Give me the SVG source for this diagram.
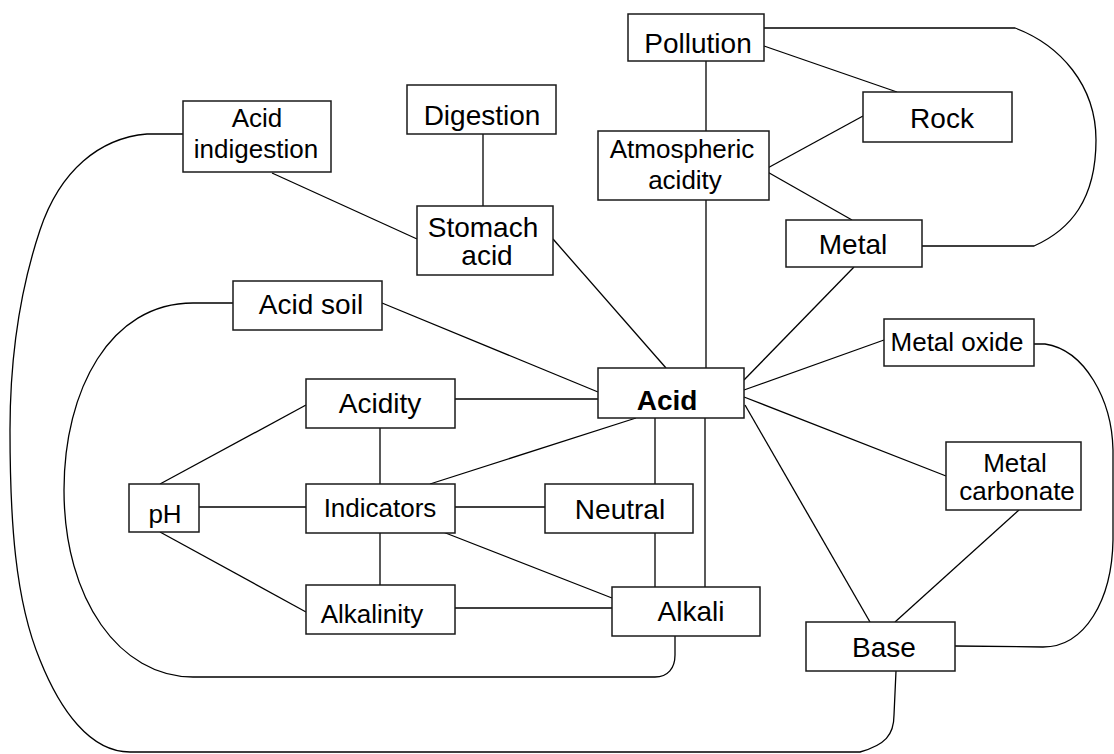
<svg xmlns="http://www.w3.org/2000/svg" width="1114" height="754" viewBox="0 0 1114 754">
<style>
.box{fill:#fff;stroke:#1a1a1a;stroke-width:1.5}
.ln{fill:none;stroke:#000;stroke-width:1.3}
text{font-family:"Liberation Sans",Arial,sans-serif;fill:#000;text-anchor:middle}
.big{font-size:28px}
.sm{font-size:26px}
.bold{font-size:28px;font-weight:bold}
</style>
<rect width="1114" height="754" fill="#fff"/>
<g id="connectors">
<path class="ln" d="M706,61 V131"/>
<path class="ln" d="M764,46 L897,92"/>
<path class="ln" d="M764,28 L1015,28 C1060,45 1096,85 1096,140 C1096,200 1070,230 1034,246 L922,246"/>
<path class="ln" d="M764,170 L863,116"/>
<path class="ln" d="M764,170 L852,220"/>
<path class="ln" d="M706,200 V368"/>
<path class="ln" d="M483,134 V206"/>
<path class="ln" d="M272,173 L417,239"/>
<path class="ln" d="M553,239 L666,368"/>
<path class="ln" d="M854,267 L744,380"/>
<path class="ln" d="M187,134 L147,134 C100,138 60,170 40,230 C20,290 10,360 10,430 C10,520 15,600 40,660 C60,710 90,752 130,752 L860,752 C885,745 894,735 894,715 L896,671"/>
<path class="ln" d="M382,303 L598,392"/>
<path class="ln" d="M233,303 L193,303 C110,303 64,390 64,490 C64,600 120,677 193,677 L655,677 C668,677 675,668 675,655 L675,636"/>
<path class="ln" d="M455,399 H598"/>
<path class="ln" d="M636,418 L430,484"/>
<path class="ln" d="M655,418 V484"/>
<path class="ln" d="M705,418 V587"/>
<path class="ln" d="M655,533 V587"/>
<path class="ln" d="M744,390 L884,340"/>
<path class="ln" d="M744,397 L946,476"/>
<path class="ln" d="M745,405 L870,622"/>
<path class="ln" d="M1019,510 L895,622"/>
<path class="ln" d="M1034,344 L1045,344 C1085,350 1112,400 1113,450 L1113,540 C1112,600 1085,647 1043,647 L955,646"/>
<path class="ln" d="M160,484 L306,405"/>
<path class="ln" d="M199,507 H306"/>
<path class="ln" d="M160,532 L306,612"/>
<path class="ln" d="M380,428 V484"/>
<path class="ln" d="M380,533 V585"/>
<path class="ln" d="M455,507 H545"/>
<path class="ln" d="M443,532 L612,598"/>
<path class="ln" d="M455,608 H612"/>
</g>
<g id="pollution"><rect class="box" x="628" y="14" width="136" height="47"/><text class="big" x="698" y="53">Pollution</text></g>
<g id="rock"><rect class="box" x="863" y="92" width="149" height="50"/><text class="big" x="942" y="128">Rock</text></g>
<g id="atmospheric-acidity"><rect class="box" x="598" y="131" width="171" height="69"/><text class="sm" x="682" y="158">Atmospheric</text><text class="sm" x="685" y="189">acidity</text></g>
<g id="metal"><rect class="box" x="786" y="220" width="136" height="47"/><text class="big" x="853" y="254">Metal</text></g>
<g id="acid-indigestion"><rect class="box" x="183" y="101" width="148" height="71"/><text class="sm" x="257" y="127">Acid</text><text class="sm" x="256" y="158">indigestion</text></g>
<g id="digestion"><rect class="box" x="407" y="85" width="149" height="49"/><text class="big" x="482" y="125">Digestion</text></g>
<g id="stomach-acid"><rect class="box" x="417" y="206" width="136" height="69"/><text class="big" x="483" y="237">Stomach</text><text class="big" x="487" y="265">acid</text></g>
<g id="acid-soil"><rect class="box" x="233" y="281" width="149" height="49"/><text class="big" x="311" y="314">Acid soil</text></g>
<g id="acidity"><rect class="box" x="306" y="379" width="149" height="49"/><text class="big" x="380" y="413">Acidity</text></g>
<g id="acid"><rect class="box" x="598" y="368" width="146" height="50"/><text class="bold" x="667" y="410">Acid</text></g>
<g id="ph"><rect class="box" x="129" y="484" width="70" height="48"/><text class="sm" x="165" y="523">pH</text></g>
<g id="indicators"><rect class="box" x="306" y="484" width="149" height="49"/><text class="sm" x="380" y="517">Indicators</text></g>
<g id="neutral"><rect class="box" x="545" y="484" width="148" height="49"/><text class="big" x="620" y="519">Neutral</text></g>
<g id="alkalinity"><rect class="box" x="306" y="585" width="149" height="49"/><text class="sm" x="372" y="623">Alkalinity</text></g>
<g id="alkali"><rect class="box" x="612" y="587" width="148" height="49"/><text class="big" x="691" y="621">Alkali</text></g>
<g id="metal-oxide"><rect class="box" x="884" y="319" width="150" height="47"/><text class="sm" x="957" y="351">Metal oxide</text></g>
<g id="metal-carbonate"><rect class="box" x="946" y="442" width="135" height="68"/><text class="sm" x="1015" y="472">Metal</text><text class="sm" x="1017" y="500">carbonate</text></g>
<g id="base"><rect class="box" x="806" y="622" width="149" height="49"/><text class="big" x="884" y="657">Base</text></g>
</svg>
